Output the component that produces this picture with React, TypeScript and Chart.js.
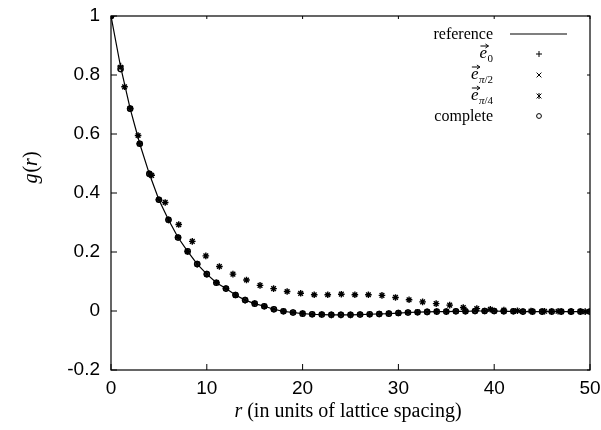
import React, { useEffect, useRef } from "react";
import { Chart, registerables } from "chart.js";

Chart.register(...registerables);

// integer lattice distances (axis directions)
const rAxis = [
  0, 1, 2, 3, 4, 5, 6, 7, 8, 9, 10, 11, 12, 13, 14, 15, 16, 17, 18, 19, 20,
  21, 22, 23, 24, 25, 26, 27, 28, 29, 30, 31, 32, 33, 34, 35, 36, 37, 38, 39,
  40, 41, 42, 43, 44, 45, 46, 47, 48, 49, 50,
];
const gReference = [
  1.0, 0.828, 0.686, 0.567, 0.465, 0.377, 0.309, 0.249, 0.202, 0.159, 0.125,
  0.096, 0.076, 0.054, 0.037, 0.025, 0.016, 0.006, -0.001, -0.005, -0.009,
  -0.011, -0.012, -0.013, -0.013, -0.013, -0.012, -0.011, -0.01, -0.009,
  -0.007, -0.005, -0.004, -0.003, -0.002, -0.002, -0.001, -0.001, 0.0, 0.0,
  0.0, -0.001, -0.001, -0.002, -0.002, -0.002, -0.002, -0.002, -0.002,
  -0.002, -0.002,
];
const gE0 = [
  1.0, 0.83, 0.686, 0.567, 0.465, 0.377, 0.309, 0.249, 0.202, 0.159, 0.125,
  0.096, 0.076, 0.054, 0.037, 0.025, 0.016, 0.006, -0.001, -0.005, -0.009,
  -0.011, -0.012, -0.013, -0.013, -0.013, -0.012, -0.011, -0.01, -0.009,
  -0.007, -0.005, -0.004, -0.003, -0.002, -0.002, -0.001, -0.001, 0.0, 0.0,
  0.0, -0.001, -0.001, -0.002, -0.002, -0.002, -0.002, -0.002, -0.002,
  -0.002, -0.002,
];
const gEPi2 = [
  1.0, 0.826, 0.686, 0.567, 0.465, 0.377, 0.309, 0.249, 0.202, 0.159, 0.125,
  0.096, 0.076, 0.054, 0.037, 0.025, 0.016, 0.006, -0.001, -0.005, -0.009,
  -0.011, -0.012, -0.013, -0.013, -0.013, -0.012, -0.011, -0.01, -0.009,
  -0.007, -0.005, -0.004, -0.003, -0.002, -0.002, -0.001, -0.001, 0.0, 0.0,
  0.0, -0.001, -0.001, -0.002, -0.002, -0.002, -0.002, -0.002, -0.002,
  -0.002, -0.002,
];
const gComplete = [
  1.0, 0.82, 0.686, 0.567, 0.465, 0.377, 0.309, 0.249, 0.202, 0.159, 0.125,
  0.096, 0.076, 0.054, 0.037, 0.025, 0.016, 0.006, -0.001, -0.005, -0.009,
  -0.011, -0.012, -0.013, -0.013, -0.013, -0.012, -0.011, -0.01, -0.009,
  -0.007, -0.005, -0.004, -0.003, -0.002, -0.002, -0.001, -0.001, 0.0, 0.0,
  0.0, -0.001, -0.001, -0.002, -0.002, -0.002, -0.002, -0.002, -0.002,
  -0.002, -0.002,
];

// diagonal distances k*sqrt(2)
const rDiag = [
  0, 1.414, 2.828, 4.243, 5.657, 7.071, 8.485, 9.899, 11.314, 12.728, 14.142,
  15.556, 16.971, 18.385, 19.799, 21.213, 22.627, 24.042, 25.456, 26.87,
  28.284, 29.698, 31.113, 32.527, 33.941, 35.355, 36.77, 38.184, 39.598,
  41.012, 42.426, 43.841, 45.255, 46.669, 48.083, 49.497,
];
const gEPi4 = [
  1.0, 0.76, 0.595, 0.46, 0.368, 0.293, 0.236, 0.187, 0.151, 0.125, 0.105,
  0.087, 0.076, 0.066, 0.06, 0.055, 0.055, 0.057, 0.055, 0.055, 0.053, 0.046,
  0.038, 0.031, 0.025, 0.02, 0.012, 0.008, 0.006, 0.003, 0.001, 0.0, -0.001,
  -0.001, -0.002, -0.002,
];

const xTicks = [0, 10, 20, 30, 40, 50];
const yTicks = [-0.2, 0, 0.2, 0.4, 0.6, 0.8, 1];

const SERIF = "'Liberation Serif', 'DejaVu Serif', serif";
const SANS = "'Liberation Sans', Arial, sans-serif";

function pts(xs: number[], ys: number[]) {
  return xs.map((x, i) => ({ x, y: ys[i] }));
}

function drawMarker(ctx: CanvasRenderingContext2D, kind: string, x: number, y: number, r: number) {
  ctx.beginPath();
  if (kind === "cross") {
    ctx.moveTo(x - r, y); ctx.lineTo(x + r, y);
    ctx.moveTo(x, y - r); ctx.lineTo(x, y + r);
  } else if (kind === "crossRot") {
    ctx.moveTo(x - r * 0.8, y - r * 0.8); ctx.lineTo(x + r * 0.8, y + r * 0.8);
    ctx.moveTo(x - r * 0.8, y + r * 0.8); ctx.lineTo(x + r * 0.8, y - r * 0.8);
  } else if (kind === "star") {
    ctx.moveTo(x - r * 0.8, y - r * 0.8); ctx.lineTo(x + r * 0.8, y + r * 0.8);
    ctx.moveTo(x - r * 0.8, y + r * 0.8); ctx.lineTo(x + r * 0.8, y - r * 0.8);
    ctx.moveTo(x, y - r); ctx.lineTo(x, y + r);
  } else if (kind === "circle") {
    ctx.arc(x, y, r * 0.8, 0, Math.PI * 2);
  }
  ctx.stroke();
}

const framePlugin = {
  id: "frame",
  afterDatasetsDraw(chart: any) {
    const { ctx, chartArea } = chart;
    const xs = chart.scales.x;
    const ys = chart.scales.y;
    ctx.save();
    ctx.strokeStyle = "#000";
    ctx.lineWidth = 1.2;
    ctx.strokeRect(chartArea.left, chartArea.top, chartArea.right - chartArea.left, chartArea.bottom - chartArea.top);
    ctx.lineWidth = 1;
    ctx.beginPath();
    xTicks.forEach((t) => {
      const px = xs.getPixelForValue(t);
      ctx.moveTo(px, chartArea.bottom);
      ctx.lineTo(px, chartArea.bottom - 6);
      ctx.moveTo(px, chartArea.top);
      ctx.lineTo(px, chartArea.top + 3);
    });
    yTicks.forEach((t) => {
      const py = ys.getPixelForValue(t);
      ctx.moveTo(chartArea.left, py);
      ctx.lineTo(chartArea.left + 6, py);
      ctx.moveTo(chartArea.right, py);
      ctx.lineTo(chartArea.right - 3, py);
    });
    ctx.stroke();

    // legend
    const textRight = 493;
    const symX = 539;
    const rows = [34, 54, 75, 96, 116];
    ctx.fillStyle = "#000";
    ctx.textBaseline = "alphabetic";
    ctx.textAlign = "left";
    const drawRight = (s: string, font: string, right: number, y: number) => {
      ctx.font = font;
      const w = ctx.measureText(s).width;
      ctx.fillText(s, right - w, y);
      return right - w;
    };
    // reference
    drawRight("reference", `16px ${SERIF}`, textRight, rows[0] + 5);
    ctx.lineWidth = 1.2;
    ctx.beginPath();
    ctx.moveTo(510, rows[0]);
    ctx.lineTo(567, rows[0]);
    ctx.stroke();
    // vector labels: [italic part, upright part] of subscript
    const subs: [string, string][] = [["", "0"], ["π", "/2"], ["π", "/4"]];
    const kinds = ["cross", "crossRot", "star"];
    subs.forEach(([itPart, upPart], i) => {
      const y = rows[i + 1] + 4;
      let left = drawRight(upPart, `11px ${SERIF}`, textRight, y + 4);
      if (itPart) left = drawRight(itPart, `italic 11px ${SERIF}`, left, y + 4);
      const eLeft = drawRight("e", `italic 17px ${SERIF}`, left - 0.5, y);
      // arrow over e
      const ax0 = eLeft + 1, ax1 = eLeft + 9, ay = y - 12;
      ctx.lineWidth = 1;
      ctx.beginPath();
      ctx.moveTo(ax0, ay);
      ctx.lineTo(ax1, ay);
      ctx.moveTo(ax1 - 3, ay - 2);
      ctx.lineTo(ax1, ay);
      ctx.lineTo(ax1 - 3, ay + 2);
      ctx.stroke();
      drawMarker(ctx, kinds[i], symX, rows[i + 1], 3);
    });
    drawRight("complete", `16px ${SERIF}`, textRight, rows[4] + 5);
    drawMarker(ctx, "circle", symX, rows[4], 3);

    // axis titles
    const parts: [string, boolean][] = [
      ["r", true],
      [" (in units of lattice spacing)", false],
    ];
    let total = 0;
    parts.forEach(([s, it]) => {
      ctx.font = `${it ? "italic " : ""}20px ${SERIF}`;
      total += ctx.measureText(s).width;
    });
    let cx = 348 - total / 2;
    parts.forEach(([s, it]) => {
      ctx.font = `${it ? "italic " : ""}20px ${SERIF}`;
      ctx.fillText(s, cx, 417);
      cx += ctx.measureText(s).width;
    });

    ctx.save();
    ctx.translate(37, 168);
    ctx.rotate(-Math.PI / 2);
    const yparts: [string, boolean][] = [
      ["g", true],
      ["(", false],
      ["r", true],
      [")", false],
    ];
    let yt = 0;
    yparts.forEach(([s, it]) => {
      ctx.font = `${it ? "italic " : ""}20px ${SERIF}`;
      yt += ctx.measureText(s).width;
    });
    let yx = -yt / 2;
    yparts.forEach(([s, it]) => {
      ctx.font = `${it ? "italic " : ""}20px ${SERIF}`;
      ctx.fillText(s, yx, 0);
      yx += ctx.measureText(s).width + (s === "g" ? 1 : 0);
    });
    ctx.restore();
    ctx.restore();
  },
};

export default function App() {
  const ref = useRef<HTMLCanvasElement | null>(null);
  useEffect(() => {
    if (!ref.current) return;
    const markerBase = {
      showLine: false,
      borderColor: "#000",
      backgroundColor: "rgba(0,0,0,0)",
      borderWidth: 1.4,
      pointRadius: 3.3,
    };
    const chart = new Chart(ref.current, {
      type: "scatter",
      data: {
        datasets: [
          {
            label: "reference",
            data: pts(rAxis, gReference),
            showLine: true,
            borderColor: "#000",
            borderWidth: 1.2,
            pointRadius: 0,
            tension: 0,
          },
          { label: "e0", data: pts(rAxis, gE0), pointStyle: "cross", ...markerBase },
          { label: "ePi2", data: pts(rAxis, gEPi2), pointStyle: "crossRot", ...markerBase },
          { label: "ePi4", data: pts(rDiag, gEPi4), pointStyle: "star", ...markerBase },
          { label: "complete", data: pts(rAxis, gComplete), pointStyle: "circle", ...markerBase, pointRadius: 2.6 },
        ],
      },
      options: {
        animation: false,
        responsive: false,
        devicePixelRatio: 1,
        layout: { padding: { top: 16, right: 11, left: 0, bottom: 0 } },
        plugins: { legend: { display: false }, tooltip: { enabled: false } },
        scales: {
          x: {
            type: "linear",
            min: 0,
            max: 50,
            afterBuildTicks: (s: any) => {
              s.ticks = xTicks.map((v) => ({ value: v }));
            },
            ticks: {
              color: "#000",
              font: { family: SANS, size: 19 },
              padding: 7,
              maxRotation: 0,
              callback: (v: any) => String(v),
            },
            grid: { display: false, drawTicks: false, tickLength: 0 },
            border: { display: false },
            afterFit: (s: any) => {
              s.height = 60;
              s.paddingLeft = 0;
              s.paddingRight = 0;
            },
          },
          y: {
            min: -0.2,
            max: 1,
            afterBuildTicks: (s: any) => {
              s.ticks = yTicks.map((v) => ({ value: v }));
            },
            ticks: {
              color: "#000",
              font: { family: SANS, size: 19 },
              padding: 11,
              callback: (v: any) => {
                const r = Math.round(Number(v) * 10) / 10;
                return r === 0 ? "0" : String(r);
              },
            },
            grid: { display: false, drawTicks: false, tickLength: 0 },
            border: { display: false },
            afterFit: (s: any) => {
              s.width = 111;
              s.paddingTop = 0;
              s.paddingBottom = 0;
            },
          },
        },
      },
      plugins: [framePlugin],
    } as any);
    return () => chart.destroy();
  }, []);
  return (
    <div style={{ position: "absolute", left: 0, top: 0, width: 601, height: 430, background: "#fff" }}>
      <canvas ref={ref} width={601} height={430} style={{ display: "block" }} />
    </div>
  );
}
